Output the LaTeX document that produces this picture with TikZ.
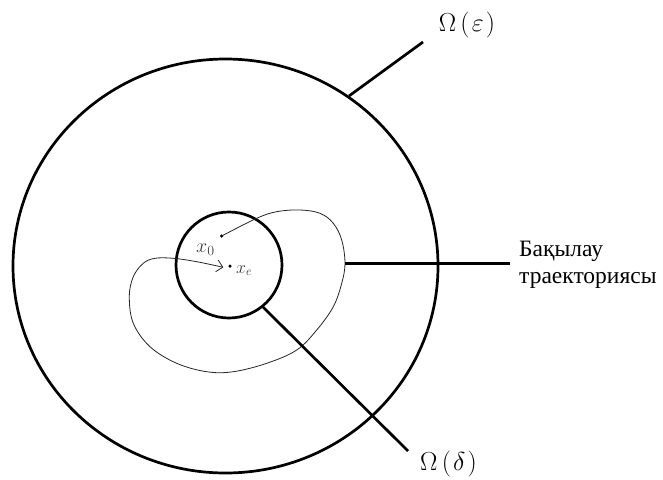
\RequirePackage{fix-cm}
\documentclass[tikz,border=0pt]{standalone}
\usepackage{fontspec}
\setmainfont{Liberation Serif}
\usetikzlibrary{shapes.geometric,arrows.meta}
\begin{document}
\begin{tikzpicture}[x=1pt,y=-1pt,
  thickline/.style={line width=2.7pt},
  trajline/.style={line width=0.8pt,draw=black!85},
  dotpt/.style={circle,fill=black,inner sep=0pt,minimum size=3.5pt},
  omegalabel/.style={inner sep=0pt,font=\fontsize{26}{30}\selectfont},
  ptlabel/.style={inner sep=0pt,text=black!75,font=\fontsize{20}{24}\selectfont}]
\useasboundingbox (0,0) rectangle (663,479);
\fill[white] (0,0) rectangle (663,479);
% circles
\node[ellipse, draw, thickline, minimum width=425pt, minimum height=414pt, inner sep=0pt] (bigc) at (225.5,266) {};
\node[circle, draw, thickline, minimum size=106pt, inner sep=0pt] (smallc) at (229,265) {};
% points
\node[dotpt] (x0) at (221.7,236) {};
\node[dotpt] (xe) at (230,266) {};
\node[ptlabel, anchor=base west] (x0lab) at (196,252) {$x_0$};
\node[ptlabel, anchor=base west, font=\fontsize{18}{22}\selectfont] (xelab) at (236,273) {$x_e$};
% trajectory
\coordinate (tr) at (345,263.3);
\draw[trajline, -{Straight Barb[length=6pt,width=12pt]}] plot[smooth, tension=0.6] coordinates {
 (221.7,236) (256.7,218.3) (276.7,211.7) (300,210) (320,213.3) (333.3,223.3) (341.7,240)
 (tr) (341.7,283.3) (333.3,306.7) (316.7,330) (296.7,350) (266.7,363.3) (233.3,371.7)
 (206.7,371.7) (176.7,363.3) (150,346.7) (133.3,323.3) (129.3,296.7) (133.3,276.7)
 (143.3,263.3) (155,258.3) (173.3,258.3) (196.7,261.7) (223.3,267.3)};
% connectors and labels
\coordinate (epsend) at (423,42);
\draw[thickline] (bigc.54.6) -- (epsend);
\node[omegalabel, anchor=base] (epslab) at (467,31) {$\Omega\mkern3mu(\mkern1.5mu\varepsilon\mkern1.5mu)$};
\coordinate (deltaend) at (408,451);
\draw[thickline] (smallc.-51) -- (deltaend);
\node[omegalabel, anchor=base] (deltalab) at (448.5,470) {$\Omega\mkern3mu(\mkern1.5mu\delta\mkern1.5mu)$};
\coordinate (trend) at (510,263.3);
\draw[thickline] (tr) -- (trend);
\node[anchor=north west, inner sep=0pt, align=left, font=\fontsize{23.5}{27}\selectfont] (trlab) at (519,241) {Бақылау\\траекториясы};
\end{tikzpicture}
\end{document}
